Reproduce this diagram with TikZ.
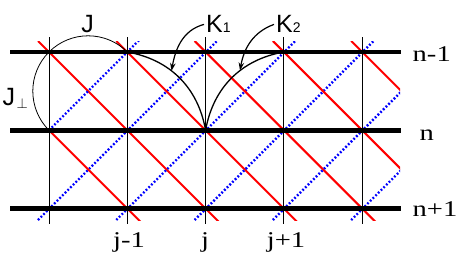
\documentclass[tikz,border=0pt]{standalone}
\usepackage{fontspec}
\setmainfont{Liberation Serif}
\setsansfont{Liberation Sans}
\usepackage{graphicx}
\usepackage{tikz}
\usetikzlibrary{arrows.meta, calc}
\newcommand{\widen}[1]{\scalebox{1.27}[1]{#1}}
\newcommand{\lowidx}[1]{{\fontsize{14}{14}\selectfont #1}}

\begin{document}
\begin{tikzpicture}[
  x=1pt, y=-1pt, >={Stealth[length=8pt, width=5.5pt]},
  rail/.style={line width=4.6pt},
  post/.style={line width=1pt},
  hopR/.style={red, line width=2pt},
  hopB/.style={blue, line width=2.4pt, dash pattern=on 1.8pt off 2pt},
  jarc/.style={line width=0.8pt},
  karc/.style={line width=1.3pt},
  pointer/.style={->, line width=1.2pt},
  tag/.style={font=\fontsize{22.5}{22.5}\selectfont, inner sep=0pt},
  cpl/.style={font=\sffamily\fontsize{25}{25}\selectfont, inner sep=0pt}]
\useasboundingbox (0,0) rectangle (459,257);
\foreach \r in {0,1,2} \foreach \c in {0,...,4}
  \coordinate (v\r\c) at ({49+78.3*\c},{52+78.3*\r});
\begin{scope}
  \clip (0,41) rectangle (400,220);
  \foreach \c in {0,...,4} {
    \draw[hopR] ({38+78.3*\c},41) -- ++(200,200);
    \draw[hopB] ({38+78.3*\c},220) -- ++(200,-200);
  }
  \draw[hopR] (v10) -- ++(200,200);
  \draw[hopB] (v10) -- ++(200,-200);
\end{scope}
\foreach \c in {0,...,4}
  \draw[post] ($(v0\c)+(0,-15)$) -- ($(v2\c)+(0,15.5)$);
\foreach \r in {0,1,2}
  \draw[rail] ($(v\r0)+(-39,0)$) -- ($(v\r4)+(39,0)$);
\draw[jarc] (v00) to[bend left=45] (v01);
\draw[jarc] (v10) to[bend left=45] (v00);
\draw[karc] (v01) to[bend left=35] (v12);
\draw[karc] (v12) to[bend left=35] (v03);
\node[cpl, anchor=base] (J) at (87.5,32.5) {J};
\node[cpl, anchor=base west] (Jp) at (2.5,105) {J\hspace{1.5pt}\raisebox{-3pt}{\lowidx{$\perp$}}};
\node[cpl, anchor=base west] (K1) at (206,33) {K\lowidx{1}};
\node[cpl, anchor=base west] (K2) at (276,33) {K\lowidx{2}};
\node[tag, anchor=base west] (r0) at (412.5,61.5) {\widen{n-1}};
\node[tag, anchor=base west] (r1) at (419.5,140) {\widen{n}};
\node[tag, anchor=base west] (r2) at (412.5,216.5) {\widen{n+1}};
\node[tag, anchor=base] (c1) at (129,247) {\widen{j-1}};
\node[tag, anchor=base] (c2) at (205,247) {\widen{j}};
\node[tag, anchor=base] (c3) at (286,247) {\widen{j+1}};
\coordinate (t1) at (171.5,71);
\coordinate (t2) at (240,70.5);
\draw[pointer] ([xshift=-2pt]K1.west) to[out=195, in=80] (t1);
\draw[pointer] ([xshift=-2pt]K2.west) to[out=200, in=80] (t2);
\end{tikzpicture}
\end{document}
